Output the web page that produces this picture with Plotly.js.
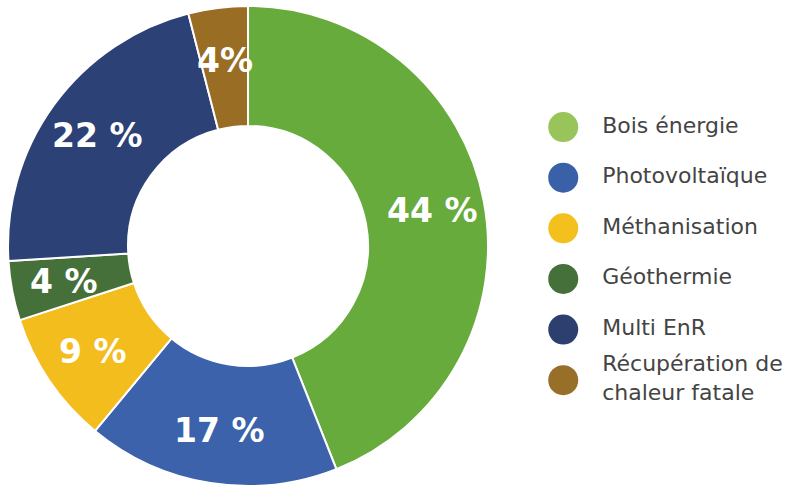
<!DOCTYPE html>
<html>
<head>
<meta charset="utf-8">
<script src="https://cdn.plot.ly/plotly-3.0.1.min.js"></script>
<style>html,body{margin:0;padding:0;background:#fff;}#chart{width:802px;height:490px;}</style>
</head>
<body>
<div id="chart"></div>
<script>
const categories = ["Bois énergie", "Photovoltaïque", "Méthanisation", "Géothermie", "Multi EnR", "Récupération de chaleur fatale"];
const legendLabels = ["Bois énergie", "Photovoltaïque", "Méthanisation", "Géothermie", "Multi EnR", "Récupération de<br>chaleur fatale"];
const values = [44, 17, 9, 4, 22, 4];
const sliceLabels = ["44 %", "17 %", "9 %", "4 %", "22 %", "4%"];
const sliceColors = ["#66ab3c", "#3b62ab", "#f3bd1e", "#46703a", "#2c4175", "#9a6d25"];
const legendColors = ["#98c45a", "#3a61a8", "#f3c01e", "#45703a", "#2d3f6e", "#986f28"];

const W = 802, H = 490;
const pieDomain = { x: [0.01, 0.6085], y: [0.008, 0.988] };

const pie = {
  type: "pie",
  labels: categories,
  values: values,
  textinfo: "none",
  sort: false,
  direction: "clockwise",
  rotation: 0,
  hole: 0.5,
  marker: { colors: sliceColors, line: { color: "#ffffff", width: 2 } },
  domain: pieDomain,
  showlegend: false,
  hoverinfo: "label+percent"
};

// slice labels placed on the ring of each segment, computed from the values
const total = values.reduce((a, b) => a + b, 0);
const cx = (pieDomain.x[0] + pieDomain.x[1]) / 2;
const cy = (pieDomain.y[0] + pieDomain.y[1]) / 2;
const outerPx = Math.min((pieDomain.x[1] - pieDomain.x[0]) * W, (pieDomain.y[1] - pieDomain.y[0]) * H) / 2;
const labelPx = outerPx * 0.78;
let cum = 0;
const annotations = values.map((v, i) => {
  const mid = (cum + v / 2) / total * 2 * Math.PI;
  cum += v;
  return {
    xref: "paper", yref: "paper",
    x: cx + labelPx * Math.sin(mid) / W,
    y: cy + labelPx * Math.cos(mid) / H,
    text: sliceLabels[i],
    showarrow: false,
    xanchor: "center", yanchor: "middle",
    font: { family: "DejaVu Sans, sans-serif", size: 33, color: "#ffffff", weight: 700 }
  };
});

const legendDots = {
  type: "scatter",
  mode: "markers",
  x: categories.map(() => 0.173),
  y: categories,
  marker: { size: 30, color: legendColors },
  xaxis: "x", yaxis: "y",
  showlegend: false,
  hoverinfo: "skip"
};

const legendText = {
  type: "scatter",
  mode: "text",
  x: categories.map(() => 0.308),
  y: categories,
  text: legendLabels,
  textposition: "middle right",
  textfont: { family: "DejaVu Sans, sans-serif", size: 22, color: "#444444" },
  xaxis: "x", yaxis: "y",
  showlegend: false,
  hoverinfo: "skip"
};

const layout = {
  width: W, height: H,
  margin: { l: 0, r: 0, t: 0, b: 0 },
  paper_bgcolor: "#ffffff",
  plot_bgcolor: "rgba(0,0,0,0)",
  showlegend: false,
  annotations: annotations,
  xaxis: { domain: [0.64, 1], range: [0, 1], visible: false, fixedrange: true },
  yaxis: { domain: [0, 1], type: "category", categoryorder: "array", categoryarray: categories,
           range: [7.17, -2.51], visible: false, fixedrange: true }
};

Plotly.newPlot("chart", [pie, legendDots, legendText], layout, { displayModeBar: false, staticPlot: true });
</script>
</body>
</html>
